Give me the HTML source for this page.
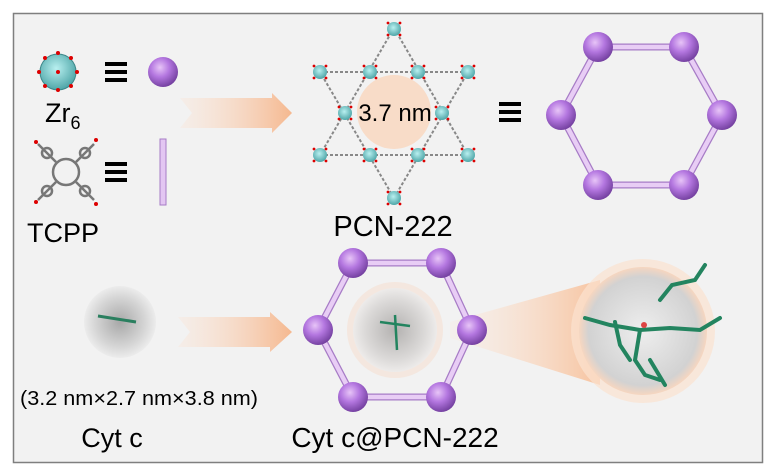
<!DOCTYPE html>
<html><head><meta charset="utf-8"><style>
html,body{margin:0;padding:0;background:#fff;}
svg{display:block;}
text{font-family:"Liberation Sans",sans-serif;fill:#000;}
</style></head><body>
<svg width="769" height="472" viewBox="0 0 769 472" xmlns="http://www.w3.org/2000/svg">
<defs>
<radialGradient id="ball" cx="0.4" cy="0.35" r="0.7">
<stop offset="0" stop-color="#e7c4f7"/><stop offset="0.45" stop-color="#b477e0"/><stop offset="1" stop-color="#6e3b9a"/>
</radialGradient>
<linearGradient id="arr" x1="0" x2="1"><stop offset="0" stop-color="#fbe3d3" stop-opacity="0.3"/><stop offset="1" stop-color="#f5b88f"/></linearGradient>
<linearGradient id="cone" x1="0" x2="1"><stop offset="0" stop-color="#fde6d6" stop-opacity="0.2"/><stop offset="1" stop-color="#f7c39f"/></linearGradient>
<radialGradient id="prot" cx="0.5" cy="0.5" r="0.5"><stop offset="0" stop-color="#a8a8a8"/><stop offset="0.7" stop-color="#d6d6d6"/><stop offset="1" stop-color="#ececec"/></radialGradient>
<radialGradient id="zoomc" cx="0.5" cy="0.5" r="0.5"><stop offset="0" stop-color="#eeeeee"/><stop offset="0.85" stop-color="#d2d2d2"/><stop offset="1" stop-color="#f6d6c0"/></radialGradient>
<radialGradient id="zr" cx="0.45" cy="0.4" r="0.6"><stop offset="0" stop-color="#b9f0f0"/><stop offset="1" stop-color="#4fa6a8"/></radialGradient>
<g id="b"><circle r="15" fill="url(#ball)"/></g>
<g id="z"><circle r="7" fill="url(#zr)"/><circle cx="-6" cy="-6" r="1.4" fill="#d00"/><circle cx="6" cy="-6" r="1.4" fill="#d00"/><circle cx="-6" cy="6" r="1.4" fill="#d00"/><circle cx="6" cy="6" r="1.4" fill="#d00"/></g>
</defs>
<rect x="13.5" y="13.5" width="749" height="449" fill="#f2f2f2" stroke="#7f7f7f" stroke-width="1.5"/>

<!-- Zr6 -->
<circle cx="58" cy="72" r="18" fill="url(#zr)" stroke="#3b8688" stroke-width="1"/>
<g fill="#d00">
<circle cx="45" cy="58" r="2"/><circle cx="58" cy="53" r="2"/><circle cx="71" cy="58" r="2"/><circle cx="77" cy="72" r="2"/><circle cx="71" cy="86" r="2"/><circle cx="58" cy="90" r="2"/><circle cx="45" cy="86" r="2"/><circle cx="39" cy="72" r="2"/><circle cx="58" cy="72" r="2"/>
</g>
<g fill="#000"><rect x="105" y="62" width="22" height="4"/><rect x="105" y="70" width="22" height="4"/><rect x="105" y="78" width="22" height="4"/></g>
<use href="#b" x="163" y="72"/>
<text x="45" y="122" font-size="27">Zr<tspan font-size="18" dy="7">6</tspan></text>

<!-- TCPP -->
<g stroke="#777" stroke-width="2.5" fill="none">
<circle cx="66" cy="172" r="13"/>
<line x1="56" y1="162" x2="38" y2="144"/><line x1="76" y1="162" x2="94" y2="144"/>
<line x1="56" y1="182" x2="38" y2="200"/><line x1="76" y1="182" x2="94" y2="200"/>
<circle cx="47" cy="153" r="5"/><circle cx="85" cy="153" r="5"/><circle cx="47" cy="191" r="5"/><circle cx="85" cy="191" r="5"/>
</g>
<g fill="#d00"><circle cx="36" cy="142" r="2"/><circle cx="96" cy="140" r="2"/><circle cx="36" cy="202" r="2"/><circle cx="96" cy="204" r="2"/></g>
<g fill="#000"><rect x="105" y="162" width="22" height="4"/><rect x="105" y="170" width="22" height="4"/><rect x="105" y="178" width="22" height="4"/></g>
<rect x="160" y="139" width="6" height="66" fill="#e3c6f2" stroke="#a77cc6" stroke-width="1"/>
<text x="27" y="242" font-size="27">TCPP</text>

<!-- arrow 1 -->
<polygon points="180,98 272,98 272,93 292,113 272,133 272,128 180,128 192,113" fill="url(#arr)"/>

<!-- PCN-222 -->
<circle cx="394" cy="112" r="37" fill="#f8dcc8"/>
<g stroke="#888" stroke-width="2" stroke-dasharray="3 2" fill="none">
<line x1="320" y1="72" x2="468" y2="72"/><line x1="320" y1="155" x2="468" y2="155"/>
<line x1="394" y1="28" x2="320" y2="155"/><line x1="394" y1="28" x2="468" y2="155"/>
<line x1="394" y1="198" x2="320" y2="72"/><line x1="394" y1="198" x2="468" y2="72"/>
</g>
<use href="#z" x="394" y="29"/><use href="#z" x="320" y="72"/><use href="#z" x="370" y="72"/><use href="#z" x="418" y="72"/><use href="#z" x="468" y="72"/>
<use href="#z" x="345" y="113"/><use href="#z" x="442" y="113"/>
<use href="#z" x="320" y="155"/><use href="#z" x="370" y="155"/><use href="#z" x="418" y="155"/><use href="#z" x="468" y="155"/><use href="#z" x="394" y="198"/>
<text x="395" y="121" font-size="24" text-anchor="middle">3.7 nm</text>
<text x="393" y="236" font-size="29" text-anchor="middle">PCN-222</text>
<g fill="#000"><rect x="499" y="102" width="22" height="4"/><rect x="499" y="110" width="22" height="4"/><rect x="499" y="118" width="22" height="4"/></g>

<!-- hexagon 1 -->
<polygon points="598,47 684,47 722,115 684,185 598,185 561,115" fill="none" stroke="#a77cc6" stroke-width="7"/>
<polygon points="598,47 684,47 722,115 684,185 598,185 561,115" fill="none" stroke="#e8cdf5" stroke-width="4.5"/>
<use href="#b" x="598" y="47"/><use href="#b" x="684" y="47"/><use href="#b" x="561" y="115"/><use href="#b" x="722" y="115"/><use href="#b" x="598" y="185"/><use href="#b" x="684" y="185"/>

<!-- Cyt c -->
<circle cx="120" cy="322" r="36" fill="url(#prot)"/>
<line x1="98" y1="316" x2="136" y2="322" stroke="#2a7f5f" stroke-width="3"/>
<text x="139" y="405" font-size="20" text-anchor="middle" textLength="238" lengthAdjust="spacingAndGlyphs">(3.2 nm×2.7 nm×3.8 nm)</text>
<text x="112" y="447" font-size="27" text-anchor="middle">Cyt c</text>

<!-- arrow 2 -->
<polygon points="178,317 270,317 270,312 292,332 270,352 270,347 178,347 190,332" fill="url(#arr)"/>

<!-- cone -->
<polygon points="450,322 600,280 600,385 450,338" fill="url(#cone)"/>
<circle cx="643" cy="331" r="72" fill="#fbe2d0" opacity="0.7"/>
<circle cx="643" cy="331" r="64" fill="url(#zoomc)"/>
<g stroke="#23845f" stroke-width="4" fill="none" stroke-linecap="round">
<path d="M585,318 L610,325 L640,330 L670,328 L700,330 L720,318"/>
<path d="M640,330 L635,360 L645,375 L660,380"/>
<path d="M615,322 L620,345 L630,360"/>
<path d="M660,300 L672,285 L695,280 L705,265"/>
<path d="M650,360 L665,385"/>
</g>
<circle cx="644" cy="325" r="3" fill="#d44"/>

<!-- hexagon 2 -->
<circle cx="395" cy="330" r="48" fill="#f5e0d2" opacity="0.6"/>
<circle cx="395" cy="330" r="42" fill="url(#prot)" opacity="0.85"/>
<path d="M380,322 L410,326 M395,315 L397,350" stroke="#23845f" stroke-width="2.5" fill="none"/>
<polygon points="353,263 441,263 472,330 441,397 353,397 318,330" fill="none" stroke="#a77cc6" stroke-width="7"/>
<polygon points="353,263 441,263 472,330 441,397 353,397 318,330" fill="none" stroke="#e8cdf5" stroke-width="4.5"/>
<use href="#b" x="353" y="263"/><use href="#b" x="441" y="263"/><use href="#b" x="318" y="330"/><use href="#b" x="472" y="330"/><use href="#b" x="353" y="397"/><use href="#b" x="441" y="397"/>
<text x="395" y="447" font-size="28" text-anchor="middle">Cyt c@PCN-222</text>
</svg>
</body></html>
